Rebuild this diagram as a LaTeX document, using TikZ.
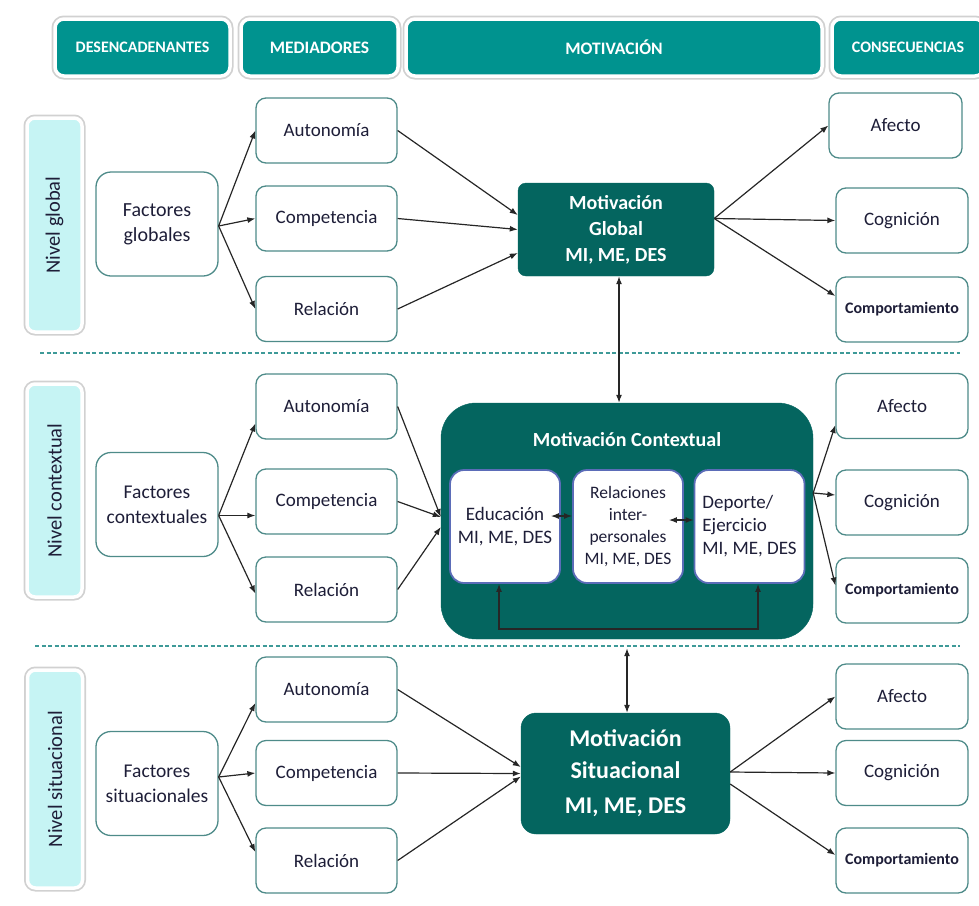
\documentclass[tikz,border=0pt]{standalone}
\usepackage{fontspec}
\setmainfont{Carlito}
\usetikzlibrary{arrows.meta}
\definecolor{TabTeal}{HTML}{00938F}
\definecolor{LevelCyan}{HTML}{C6F4F4}
\definecolor{BoxLine}{HTML}{4E8B89}
\definecolor{DarkTeal}{HTML}{04655F}
\definecolor{InnerLine}{HTML}{5B6CB8}
\definecolor{DashTeal}{HTML}{3E9A98}
\definecolor{TxtDark}{HTML}{1E1E38}
\tikzset{
 tab/.style={preaction={draw=black!18, line width=7pt}, draw=white, line width=3.5pt, fill=TabTeal, rounded corners=9pt, minimum height=57pt, text=white, font=\bfseries\fontsize{17.5}{20}\selectfont},
 levelbox/.style={preaction={draw=black!18, line width=7pt}, draw=white, line width=3.5pt, fill=LevelCyan, rounded corners=8pt, rotate=90, minimum height=55pt, text=TxtDark, font=\fontsize{20.5}{24}\selectfont},
 block/.style={draw=BoxLine, line width=1.3pt, fill=white, rounded corners=10pt, align=center, text=TxtDark, font=\fontsize{19}{23}\selectfont},
 factbox/.style={block, rounded corners=15pt, minimum width=122pt, minimum height=104pt, font=\fontsize{19.5}{25}\selectfont},
 medbox/.style={block, minimum width=141pt, minimum height=65pt},
 conbox/.style={block, minimum width=132pt, minimum height=65pt},
 smallcon/.style={conbox, font=\bfseries\fontsize{16}{18}\selectfont},
 motbox/.style={fill=DarkTeal, draw=DarkTeal, rounded corners=8pt, align=center, text=white, font=\bfseries\fontsize{20}{26}\selectfont},
 innerbox/.style={draw=InnerLine, line width=1.8pt, fill=white, rounded corners=14pt, minimum width=110pt, minimum height=113pt, align=center, text=TxtDark, font=\fontsize{19}{23}\selectfont},
 arrow/.style={-{Latex[length=8pt,width=6pt]}, line width=1.2pt, draw=black!85},
 dblarrow/.style={{Latex[length=8pt,width=6pt]}-{Latex[length=8pt,width=6pt]}, line width=1.2pt, draw=black!85},
 sepline/.style={draw=DashTeal, line width=1.6pt, dash pattern=on 4pt off 2.5pt}
}
\begin{document}
\begin{tikzpicture}[x=1pt,y=-1pt]
\useasboundingbox (0,0) rectangle (979,905);
\node[tab,minimum width=175pt,font=\bfseries\fontsize{16}{20}\selectfont] (hdes) at (142.5,47.5) {DESENCADENANTES};
\node[tab,minimum width=157pt] (hmed) at (319.5,47.5) {MEDIADORES};
\node[tab,minimum width=416pt] (hmot) at (614,47.5) {MOTIVACIÓN};
\node[tab,minimum width=152pt,font=\bfseries\fontsize{16}{20}\selectfont] (hcon) at (908,47.5) {CONSECUENCIAS};
\node[levelbox,minimum width=214pt] (lvg) at (54.5,225) {Nivel global};
\node[levelbox,minimum width=213pt] (lvc) at (54.5,490.5) {Nivel contextual};
\node[levelbox,minimum width=218pt] (lvs) at (55,779) {Nivel situacional};
\draw[sepline] (40,353) -- (960,353);
\draw[sepline] (35,646) -- (960,646);
\node[factbox,font=\fontsize{20}{25}\selectfont] (fg) at (157,224) {Factores\\globales};
\node[factbox] (fc) at (157,504.5) {Factores\\contextuales};
\node[factbox] (fs) at (157,783.5) {Factores\\situacionales};
\node[medbox] (mga) at (326.5,130.5) {Autonomía};
\node[medbox] (mgc) at (326.5,218.5) {Competencia};
\node[medbox] (mgr) at (326.5,309) {Relación};
\node[medbox] (mca) at (326.5,406.5) {Autonomía};
\node[medbox] (mcc) at (326.5,501.5) {Competencia};
\node[medbox] (mcr) at (326.5,589.5) {Relación};
\node[medbox] (msa) at (326.5,689.5) {Autonomía};
\node[medbox] (msc) at (326.5,773) {Competencia};
\node[medbox] (msr) at (326.5,860.5) {Relación};
\node[motbox,minimum width=196pt,minimum height=93pt] (motg) at (616,229.5) {Motivación\\Global\\MI, ME, DES};
\node[motbox,rounded corners=35pt,minimum width=372pt,minimum height=236pt] (mctx) at (627,521) {};
\node[text=white,font=\bfseries\fontsize{20}{24}\selectfont] (ctxtitle) at (627,440) {Motivación Contextual};
\node[innerbox] (ied) at (505,526.5) {Educación\\MI, ME, DES};
\node[innerbox,font=\fontsize{17.5}{21.7}\selectfont] (irel) at (628,526.5) {Relaciones\\inter-\\personales\\MI, ME, DES};
\node[innerbox,align=left] (idep) at (749.5,526.5) {Deporte/\\Ejercicio\\MI, ME, DES};
\node[motbox,rounded corners=15pt,minimum width=209pt,minimum height=121pt,font=\bfseries\fontsize{24}{32}\selectfont] (mots) at (625.5,773.5) {Motivación\\Situacional\\[3pt]MI, ME, DES};
\node[conbox,minimum width=133pt] (cga) at (895.5,125.5) {Afecto};
\node[conbox] (cgc) at (902,220.5) {Cognición};
\node[smallcon] (cgb) at (902,309.5) {Comportamiento};
\node[conbox] (cca) at (902,406) {Afecto};
\node[conbox] (ccc) at (902,502.5) {Cognición};
\node[smallcon] (ccb) at (902,590.5) {Comportamiento};
\node[conbox] (csa) at (902,696.5) {Afecto};
\node[conbox] (csc) at (902,773) {Cognición};
\node[smallcon] (csb) at (902,860.5) {Comportamiento};
\draw[arrow] ([yshift=-2pt]fg.east) -- (mga.west);
\draw[arrow] ([yshift=-2pt]fg.east) -- (mgc.west);
\draw[arrow] ([yshift=-2pt]fg.east) -- (mgr.west);
\draw[arrow] (mga.east) -- ([yshift=14.5pt]motg.west);
\draw[arrow] (mgc.east) -- (motg.west);
\draw[arrow] (mgr.east) -- ([yshift=-23.5pt]motg.west);
\draw[arrow] ([yshift=11pt]motg.east) -- (cga.west);
\draw[arrow] ([yshift=11pt]motg.east) -- (cgc.west);
\draw[arrow] ([yshift=11pt]motg.east) -- ([yshift=13.5pt]cgb.west);
\draw[dblarrow] ([xshift=3pt]motg.south) -- ([xshift=3pt]motg.south |- mctx.north);
\draw[arrow] ([yshift=-11pt]fc.east) -- ([yshift=-17pt]mca.west);
\draw[arrow] ([yshift=-11pt]fc.east) -- ([yshift=-14pt]mcc.west);
\draw[arrow] ([yshift=-11pt]fc.east) -- ([yshift=-4pt]mcr.west);
\draw[arrow] (mca.east) -- ([yshift=4pt]mctx.west);
\draw[arrow] (mcc.east) -- ([yshift=4pt]mctx.west);
\draw[arrow] (mcr.east) -- ([yshift=-6pt]mctx.west);
\draw[arrow] ([yshift=28pt]mctx.east) -- ([yshift=-19pt]cca.west);
\draw[arrow] ([yshift=28pt]mctx.east) -- ([yshift=7.5pt]ccc.west);
\draw[arrow] ([yshift=28pt]mctx.east) -- ([yshift=5pt]ccb.west);
\draw[dblarrow] ([xshift=-10pt,yshift=10.5pt]ied.east) -- ([yshift=10.5pt]irel.west);
\draw[dblarrow] ([xshift=-15pt,yshift=6.5pt]irel.east) -- ([yshift=6.5pt]idep.west);
\draw[dblarrow] ([xshift=-6pt]ied.south) -- ++(0,45) -| ([xshift=8.5pt]idep.south);
\draw[dblarrow] ([yshift=-9pt]mctx.south) -- (mctx.south |- mots.north);
\draw[arrow] ([yshift=6.5pt]fs.east) -- ([yshift=-13.5pt]msa.west);
\draw[arrow] ([yshift=6.5pt]fs.east) -- (msc.west);
\draw[arrow] ([yshift=6.5pt]fs.east) -- ([yshift=8.5pt]msr.west);
\draw[arrow] (msa.east) -- ([yshift=6.5pt]mots.west);
\draw[arrow] (msc.east) -- (mots.west);
\draw[arrow] (msr.east) -- ([yshift=-3pt]mots.west);
\draw[arrow] ([yshift=1.5pt]mots.east) -- (csa.west);
\draw[arrow] ([yshift=1.5pt]mots.east) -- (csc.west);
\draw[arrow] ([yshift=-10.5pt]mots.east) -- ([yshift=5.5pt]csb.west);
\end{tikzpicture}
\end{document}
